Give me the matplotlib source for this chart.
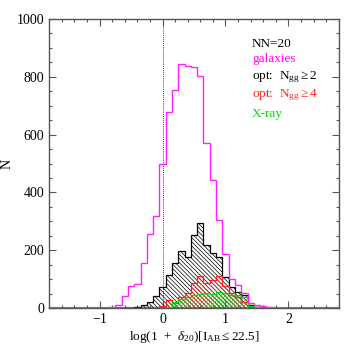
import numpy as np
import matplotlib
matplotlib.use("Agg")
import matplotlib.pyplot as plt
from matplotlib.ticker import MultipleLocator

plt.rcParams['font.family'] = ['Liberation Serif', 'DejaVu Serif']
plt.rcParams['mathtext.fontset'] = 'custom'
plt.rcParams['mathtext.rm'] = 'Liberation Serif'
plt.rcParams['mathtext.it'] = 'Liberation Serif:italic'
plt.rcParams['hatch.linewidth'] = 0.5

# bin edges of the histograms, log(1+delta) (bin width 0.1, centred on -0.8 ... 1.7)
bin_edges = [-0.85, -0.75, -0.65, -0.55, -0.45, -0.35, -0.25, -0.15, -0.05,
             0.05, 0.15, 0.25, 0.35, 0.45, 0.55, 0.65, 0.75, 0.85, 0.95,
             1.05, 1.15, 1.25, 1.35, 1.45, 1.55, 1.65, 1.75]

galaxies = [3, 12, 42, 78, 82, 157, 256, 320, 497, 678, 755, 843, 838, 834,
            804, 570, 442, 306, 187, 100, 80, 51, 18, 11, 7, 4]
opt_ngg2 = [0, 0, 0, 0, 3, 10, 22, 41, 74, 114, 155, 198, 178, 252,
            293, 218, 191, 175, 108, 72, 55, 45, 10, 4, 0, 0]
opt_ngg4 = [0, 0, 0, 0, 0, 0, 0, 2, 8, 27, 18, 40, 51, 86,
            111, 87, 97, 112, 75, 52, 38, 22, 8, 3, 0, 0]
xray = [0, 0, 0, 0, 0, 0, 0, 0, 0, 5, 20, 32, 40, 45,
        49, 51, 50, 57, 53, 47, 45, 40, 8, 3, 0, 0]

legend_labels = ['NN=20', 'galaxies', r'opt:  N$_{\rm gg}$$\geq$2',
                 r'opt:  N$_{\rm gg}$$\geq$4', 'X-ray']
legend_colors = ['black', '#ff00ff', 'black', '#ff2020', '#00dd00']

fig = plt.figure(figsize=(3.57, 3.57), dpi=100)
ax = fig.add_axes([0.138, 0.137, 0.811, 0.81])

ax.axhline(0, color='#a070a0', lw=1.6, zorder=1)
ax.axvline(0, color='black', lw=0.6, ls=(0, (1, 1.5)), zorder=1)

ax.stairs(opt_ngg2, bin_edges, fill=True, facecolor='none', edgecolor='black',
          hatch='\\' * 8, lw=0.9, zorder=2)
ax.stairs(opt_ngg4, bin_edges, fill=True, facecolor='none', edgecolor='#ff2020',
          hatch='\\' * 8, lw=0.9, zorder=3)
ax.stairs(xray, bin_edges, fill=True, facecolor='none', edgecolor='#00dd00',
          hatch='/' * 8, lw=0.9, zorder=4)
ax.stairs(galaxies, bin_edges, color='#ff22ff', lw=1.0, zorder=5)

ax.set_xlim(-1.8, 2.8)
ax.set_ylim(0, 1000)
ax.xaxis.set_major_locator(MultipleLocator(1))
ax.xaxis.set_minor_locator(MultipleLocator(0.2))
ax.yaxis.set_major_locator(MultipleLocator(200))
ax.yaxis.set_minor_locator(MultipleLocator(50))
ax.tick_params(which='both', direction='in', top=True, right=True,
               color='#555555', labelsize=10)
ax.tick_params(which='major', length=5, width=0.8)
ax.tick_params(which='minor', length=2.5, width=0.8)
for s in ax.spines.values():
    s.set_color('#555555')
    s.set_linewidth(1.0)

ax.set_xlabel(r'log(1  +  $\delta_{20}$)[I$_{\rm AB}$$\leq$22.5]', fontsize=9.5, labelpad=2)
ax.set_ylabel('N', fontsize=10, labelpad=2)

ys = [913, 862, 800, 738, 672]
for lab, col, yy in zip(legend_labels, legend_colors, ys):
    ax.text(1.42, yy, lab, color=col, fontsize=9.5, va='center', ha='left')

fig.savefig('out.png', dpi=100)
